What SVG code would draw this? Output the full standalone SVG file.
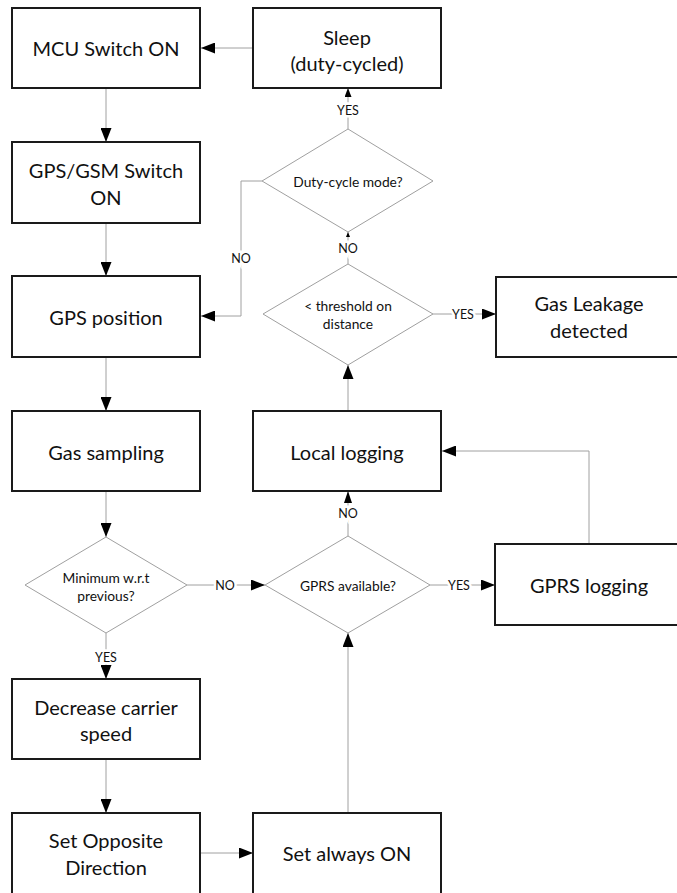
<svg xmlns="http://www.w3.org/2000/svg" width="677" height="893" viewBox="0 0 677 893">
  <style>
    .box { fill: #fff; stroke: #1a1a1a; stroke-width: 2; }
    .dec { fill: #fff; stroke: #a0a0a0; stroke-width: 1; }
    .bt { font-family: Lato, "Open Sans", sans-serif; font-size: 20px; fill: #111; text-anchor: middle; dominant-baseline: central; }
    .dt { font-family: Lato, "Open Sans", sans-serif; font-size: 13.8px; fill: #111; text-anchor: middle; dominant-baseline: central; }
    .lb { font-family: Lato, "Open Sans", sans-serif; font-size: 12.5px; fill: #111; text-anchor: middle; dominant-baseline: central; stroke: #fff; stroke-width: 5px; paint-order: stroke; }
    .ln { fill: none; stroke: #a0a0a0; stroke-width: 1; }
  </style>
  <defs>
    <marker id="arr" markerUnits="userSpaceOnUse" markerWidth="14" markerHeight="11" refX="14" refY="5.5" orient="auto">
      <path d="M0,0 L14,5.5 L0,11 Z" fill="#000"/>
    </marker>
    <marker id="arrM" markerUnits="userSpaceOnUse" markerWidth="12" markerHeight="8" refX="12" refY="4" orient="auto">
      <path d="M0,0 L12,4 L0,8 Z" fill="#000"/>
    </marker>
    <marker id="arrS" markerUnits="userSpaceOnUse" markerWidth="9" markerHeight="7" refX="9" refY="3.5" orient="auto">
      <path d="M0,0 L9,3.5 L0,7 Z" fill="#000"/>
    </marker>
    <marker id="arrT" markerUnits="userSpaceOnUse" markerWidth="5" markerHeight="4" refX="5" refY="2" orient="auto">
      <path d="M0,0 L5,2 L0,4 Z" fill="#000"/>
    </marker>
  </defs>

  <!-- connectors -->
  <g id="connectors">
    <path class="ln" d="M253,48 L201,48" marker-end="url(#arr)"/>
    <path class="ln" d="M106,88 L106,142" marker-end="url(#arr)"/>
    <path class="ln" d="M106,223 L106,276" marker-end="url(#arr)"/>
    <path class="ln" d="M106,357 L106,411" marker-end="url(#arr)"/>
    <path class="ln" d="M106,491 L106,537" marker-end="url(#arr)"/>
    <path class="ln" d="M106,633 L106,679" marker-end="url(#arr)"/>
    <path class="ln" d="M106,759 L106,813" marker-end="url(#arr)"/>
    <path class="ln" d="M200,853 L253,853" marker-end="url(#arr)"/>
    <path class="ln" d="M348,813 L348,633" marker-end="url(#arr)"/>
    <path class="ln" d="M187,585 L265,585" marker-end="url(#arr)"/>
    <path class="ln" d="M430,585 L495,585" marker-end="url(#arr)"/>
    <path class="ln" d="M348,536 L348,491" marker-end="url(#arrM)"/>
    <path class="ln" d="M589,544 L589,451 L442,451" marker-end="url(#arr)"/>
    <path class="ln" d="M348,411 L348,365" marker-end="url(#arr)"/>
    <path class="ln" d="M433,314 L496,314" marker-end="url(#arr)"/>
    <path class="ln" d="M348,264 L348,232" marker-end="url(#arrT)"/>
    <path class="ln" d="M348,129 L348,88" marker-end="url(#arrS)"/>
    <path class="ln" d="M262,181 L241,181 L241,316 L201,316" marker-end="url(#arr)"/>
    <text class="lb" x="348" y="110">YES</text>
    <text class="lb" x="348" y="248">NO</text>
    <text class="lb" x="241" y="258">NO</text>
    <text class="lb" x="463" y="314">YES</text>
    <text class="lb" x="348" y="513">NO</text>
    <text class="lb" x="225" y="585">NO</text>
    <text class="lb" x="459" y="585">YES</text>
    <text class="lb" x="106" y="657">YES</text>
  </g>

  <!-- process boxes -->
  <g id="mcu-on">
    <rect class="box" x="12" y="8" width="188" height="80"/>
    <text class="bt" x="106" y="48">MCU Switch ON</text>
  </g>
  <g id="sleep">
    <rect class="box" x="253" y="8" width="188" height="80"/>
    <text class="bt" x="347" y="37">Sleep</text>
    <text class="bt" x="347" y="63">(duty-cycled)</text>
  </g>
  <g id="gps-gsm-on">
    <rect class="box" x="12" y="142" width="188" height="81"/>
    <text class="bt" x="106" y="170">GPS/GSM Switch</text>
    <text class="bt" x="106" y="197">ON</text>
  </g>
  <g id="gps-position">
    <rect class="box" x="12" y="276" width="188" height="81"/>
    <text class="bt" x="106" y="317">GPS position</text>
  </g>
  <g id="gas-sampling">
    <rect class="box" x="12" y="411" width="188" height="80"/>
    <text class="bt" x="106" y="452">Gas sampling</text>
  </g>
  <g id="local-logging">
    <rect class="box" x="253" y="411" width="188" height="80"/>
    <text class="bt" x="347" y="452">Local logging</text>
  </g>
  <g id="gas-leakage">
    <rect class="box" x="496" y="277" width="188" height="80"/>
    <text class="bt" x="589" y="303">Gas Leakage</text>
    <text class="bt" x="589" y="330">detected</text>
  </g>
  <g id="gprs-logging">
    <rect class="box" x="495" y="544" width="188" height="81"/>
    <text class="bt" x="589" y="585">GPRS logging</text>
  </g>
  <g id="decrease-speed">
    <rect class="box" x="12" y="679" width="188" height="80"/>
    <text class="bt" x="106" y="707">Decrease carrier</text>
    <text class="bt" x="106" y="733">speed</text>
  </g>
  <g id="set-opposite">
    <rect class="box" x="12" y="813" width="188" height="100"/>
    <text class="bt" x="106" y="840">Set Opposite</text>
    <text class="bt" x="106" y="867">Direction</text>
  </g>
  <g id="set-always-on">
    <rect class="box" x="253" y="813" width="188" height="100"/>
    <text class="bt" x="347" y="853">Set always ON</text>
  </g>

  <!-- decisions -->
  <g id="duty-cycle-mode">
    <polygon class="dec" points="348,129 433,181 348,232 262,181"/>
    <text class="dt" x="348" y="181">Duty-cycle mode?</text>
  </g>
  <g id="threshold-distance">
    <polygon class="dec" points="348,264 433,314 348,365 263,314"/>
    <text class="dt" x="348" y="305">&lt; threshold on</text>
    <text class="dt" x="348" y="323">distance</text>
  </g>
  <g id="minimum-previous">
    <polygon class="dec" points="106,537 187,585 106,633 25,585"/>
    <text class="dt" x="106" y="577">Minimum w.r.t</text>
    <text class="dt" x="106" y="595">previous?</text>
  </g>
  <g id="gprs-available">
    <polygon class="dec" points="348,536 430,585 348,633 265,585"/>
    <text class="dt" x="348" y="585">GPRS available?</text>
  </g>
</svg>
